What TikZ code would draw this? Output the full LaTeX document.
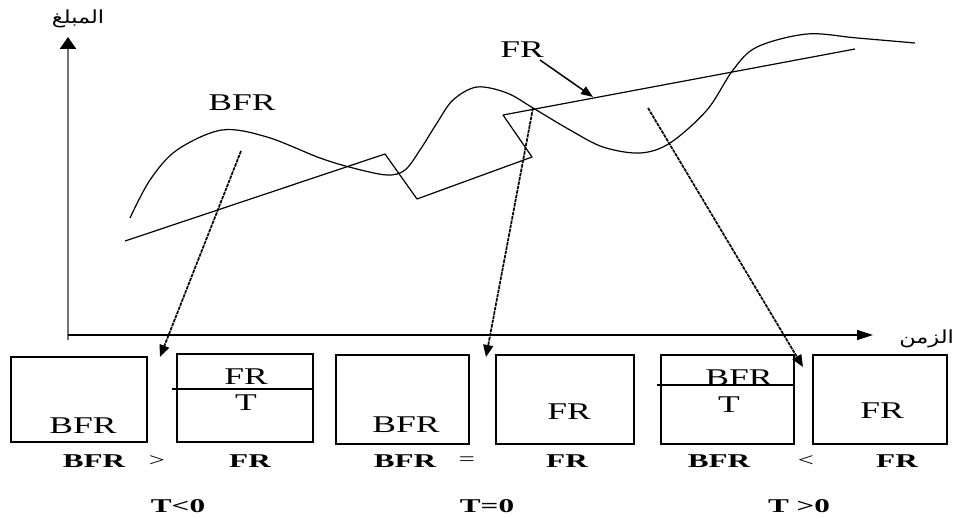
\documentclass[tikz,border=0pt]{standalone}
\usepackage{fontspec}
\setmainfont{Liberation Serif}
\newfontfamily\arabicfont[Script=Arabic]{DejaVu Sans}
\TeXXeTstate=1
\usetikzlibrary{arrows.meta}
\begin{document}
\begin{tikzpicture}[x=1pt,y=-1pt,
  box/.style={draw, line width=1.5pt, inner sep=0pt, anchor=north west},
  txt/.style={font=\fontsize{24}{24}\selectfont, xscale=1.48, inner sep=0pt},
  lbl/.style={font=\bfseries\fontsize{19.5}{19.5}\selectfont, xscale=1.6, inner sep=0pt},
  rel/.style={font=\fontsize{19}{19}\selectfont, xscale=1.5, inner sep=0pt},
  ar/.style={font=\arabicfont\fontsize{18}{18}\selectfont, xscale=1.25, inner sep=0pt},
  curve/.style={line width=1.2pt, line join=round},
  darr/.style={line width=1.7pt, dash pattern=on 3.5pt off 0.9pt, -{Triangle[length=12pt,width=10pt]}},
  sarr/.style={line width=1.5pt, -{Triangle[length=12pt,width=9pt]}}]
\useasboundingbox (0,0) rectangle (964,519);

% axes
\coordinate (ybot) at (68,340);
\coordinate (ytop) at (68,37);
\coordinate (xl) at (68,335);
\coordinate (xr) at (873,335);
\draw[line width=2.4pt, black!55, -{Triangle[length=12pt,width=16pt,black]}] (ybot) -- (ytop);
\draw[line width=1.2pt, -{Triangle[length=16pt,width=10pt]}] (xl) -- (xr);
\node[ar] (ylab) at (78,19) {\beginR المبلغ\endR};
\node[ar, anchor=west] (xlab) at (899,339) {\beginR الزمن\endR};

% wavy BFR curve
\draw[curve] plot[smooth, tension=0.55] coordinates {
 (130,218) (150,180) (177,150) (222,130) (267,137) (320,158) (353,168) (387,175)
 (405,170) (420,150) (437,123) (453,100) (477,87) (507,93) (533,108) (570,130)
 (603,147) (640,153) (670,143) (707,110) (733,70) (757,47) (807,34) (857,38) (915,43)};

% FR broken line
\draw[curve] (125,241) -- (385,154) -- (417,199) -- (532,157) -- (503,115) -- (855,49);

% top labels
\node[txt] (bfrtop) at (242,103) {BFR};
\node[txt] (frtop) at (522,50) {FR};
\coordinate (frtip) at (593,97);
\draw[sarr] (frtop.south east) ++(-4,2) -- (frtip);

% boxes
\node[box, minimum width=136pt, minimum height=85pt] (b1) at (10,356) {};
\node[box, minimum width=136pt, minimum height=88pt] (b2) at (176,353) {};
\node[box, minimum width=133pt, minimum height=89pt] (b3) at (335,354) {};
\node[box, minimum width=138pt, minimum height=89pt] (b4) at (495,354) {};
\node[box, minimum width=133pt, minimum height=89pt] (b5) at (660,354) {};
\node[box, minimum width=134pt, minimum height=89pt] (b6) at (812,354) {};

% box texts
\node[txt] (t1) at (83,426) {BFR};
\node[txt] (t2a) at (246,377) {FR};
\node[txt] (t2b) at (246,403) {T};
\node[txt] (t3) at (406,425) {BFR};
\node[txt] (t4) at (569,412) {FR};
\node[txt] (t5a) at (739,378) {BFR};
\node[txt] (t5b) at (729,405) {T};
\node[txt] (t6) at (882,411) {FR};

% dividers
\coordinate (d2l) at (172,389);
\draw[line width=1.3pt] (d2l) -- (b2.east |- d2l);
\coordinate (d5l) at (657,385);
\draw[line width=1.3pt] (d5l) -- (b5.east |- d5l);

% comparison labels
\node[lbl] (c1a) at (94,461) {BFR};
\node[rel] (c1b) at (157,461) {>};
\node[lbl] (c1c) at (250,461) {FR};
\node[lbl] (c2a) at (405,461) {BFR};
\node[rel] (c2b) at (467,461) {=};
\node[lbl] (c2c) at (567,461) {FR};
\node[lbl] (c3a) at (719,461) {BFR};
\node[rel] (c3b) at (806,461) {<};
\node[lbl] (c3c) at (897,461) {FR};

\node[lbl] (s1) at (178,506) {T<0};
\node[lbl] (s2) at (487,506) {T=0};
\node[lbl] (s3) at (799,506) {T >0};

% dashed arrows
\coordinate (a1s) at (241,151);
\coordinate (a1e) at (160,357);
\coordinate (a2s) at (533,108);
\coordinate (a2e) at (486,357);
\coordinate (a3s) at (648,108);
\coordinate (a3e) at (803,367);
\draw[darr] (a1s) -- (a1e);
\draw[darr] (a2s) -- (a2e);
\draw[darr] (a3s) -- (a3e);
\end{tikzpicture}
\end{document}
